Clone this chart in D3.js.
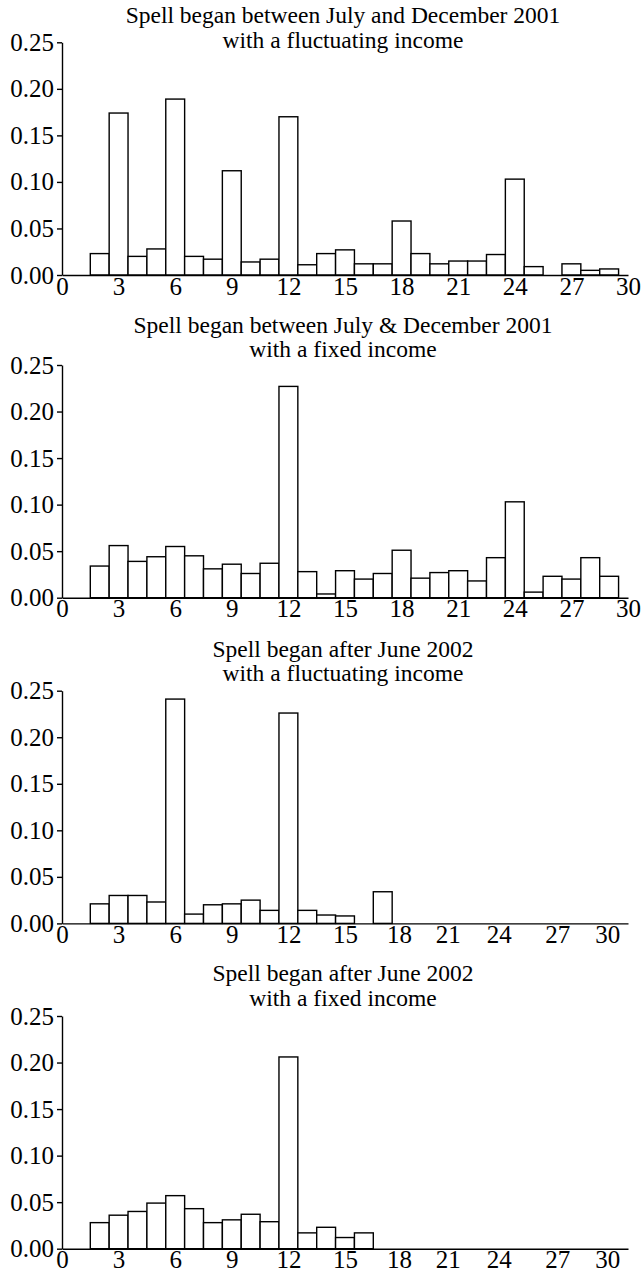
<!DOCTYPE html>
<html>
<head>
<meta charset="utf-8">
<script src="https://cdn.jsdelivr.net/npm/d3@7/dist/d3.min.js"></script>
<style>
  html, body { margin: 0; padding: 0; background: #fff; }
  svg { display: block; }
  text { font-family: "Liberation Serif", "Times New Roman", serif; fill: #000; }
</style>
</head>
<body>
<svg id="chart" width="643" height="1281"></svg>
<script>
// Duration of the spell in months (bars at 1..29)
const months = d3.range(1, 30);

// Share of spells ending at each month, per group (null = no bar)
const fluct2001 = [null, 0.023, 0.174, 0.020, 0.028, 0.189, 0.020, 0.017, 0.112, 0.014,
                   0.017, 0.170, 0.011, 0.023, 0.027, 0.012, 0.012, 0.058, 0.023, 0.012,
                   0.015, 0.015, 0.022, 0.103, 0.009, null, 0.012, 0.005, 0.0065];
const fixed2001 = [null, 0.034, 0.056, 0.039, 0.044, 0.055, 0.045, 0.031, 0.036, 0.026,
                   0.037, 0.227, 0.028, 0.004, 0.029, 0.020, 0.026, 0.051, 0.021, 0.027,
                   0.029, 0.018, 0.043, 0.103, 0.006, 0.023, 0.020, 0.043, 0.023];
const fluct2002 = [null, 0.021, 0.030, 0.030, 0.023, 0.241, 0.010, 0.020, 0.021, 0.025,
                   0.014, 0.226, 0.014, 0.009, 0.008, null, 0.034];
const fixed2002 = [null, 0.028, 0.036, 0.040, 0.049, 0.057, 0.043, 0.028, 0.031, 0.037,
                   0.029, 0.206, 0.017, 0.023, 0.012, 0.017];

// Panel titles (two lines each)
const titles = [
  ["Spell began between July and December 2001", "with a fluctuating income"],
  ["Spell began between July & December 2001", "with a fixed income"],
  ["Spell began after June 2002", "with a fluctuating income"],
  ["Spell began after June 2002", "with a fixed income"]
];

// Axis ticks
const yTicks = [0, 0.05, 0.10, 0.15, 0.20, 0.25];
const xTickLabels = ["0", "3", "6", "9", "12", "15", "18", "21", "24", "27", "30"];
const xTickAt = [0, 3, 6, 9, 12, 15, 18, 21, 24, 27, 30];
// In the later panels the labels beyond 15 sit where they were printed
const xTickAtLate = [0, 3, 6, 9, 12, 15, 17.86, 20.45, 23.15, 26.25, 28.9];

const seriesList = [fluct2001, fixed2001, fluct2002, fixed2002];

// Layout
const left = 62, right = 628;
const panelTop = [42.3, 365, 690.7, 1016];
const panelH = 232.7;
const titleOffsets = [[-19, 6], [-32, -8], [-34, -10], [-35, -10]];
const titleX = 343;
const titleSize = 23.5, tickSize = 25;

const svg = d3.select("#chart");
svg.append("rect").attr("width", 643).attr("height", 1281).attr("fill", "#fff");

const x = d3.scaleLinear().domain([0, 30]).range([left, right]);

seriesList.forEach((series, p) => {
  const top = panelTop[p], bottom = top + panelH;
  const y = d3.scaleLinear().domain([0, 0.25]).range([bottom, top]);
  const g = svg.append("g");

  // Title
  titles[p].forEach((line, i) => {
    g.append("text")
      .attr("x", titleX)
      .attr("y", top + titleOffsets[p][i])
      .attr("text-anchor", "middle")
      .attr("font-size", titleSize)
      .text(line);
  });

  // Bars
  const data = series.map((v, i) => ({ m: months[i], v })).filter(d => d.v != null && d.v > 0);
  g.append("g").selectAll("rect")
    .data(data)
    .join("rect")
      .attr("x", d => x(d.m - 0.5))
      .attr("width", d => x(d.m + 0.5) - x(d.m - 0.5))
      .attr("y", d => y(d.v))
      .attr("height", d => y(0) - y(d.v))
      .attr("fill", "#fff")
      .attr("stroke", "#000")
      .attr("stroke-width", 1.4);

  // Y axis
  const yAxis = d3.axisLeft(y)
    .tickValues(yTicks)
    .tickFormat(d3.format(".2f"))
    .tickSize(5)
    .tickSizeOuter(0)
    .tickPadding(3);
  const ya = g.append("g").attr("transform", `translate(${left},0)`).call(yAxis);
  ya.selectAll("path, line").attr("stroke", "#000").attr("stroke-width", 1.4);
  ya.selectAll("text").attr("font-size", tickSize).attr("font-family", "Liberation Serif, Times New Roman, serif");

  // X axis
  const positions = p < 2 ? xTickAt : xTickAtLate;
  const xAxis = d3.axisBottom(x)
    .tickValues(positions)
    .tickFormat((d, i) => xTickLabels[i])
    .tickSize(0)
    .tickSizeOuter(0)
    .tickPadding(2);
  const xa = g.append("g").attr("transform", `translate(0,${bottom})`).call(xAxis);
  xa.selectAll("path").attr("stroke", "#000").attr("stroke-width", 1.4);
  xa.selectAll("text").attr("font-size", tickSize).attr("font-family", "Liberation Serif, Times New Roman, serif");
});
</script>
</body>
</html>
